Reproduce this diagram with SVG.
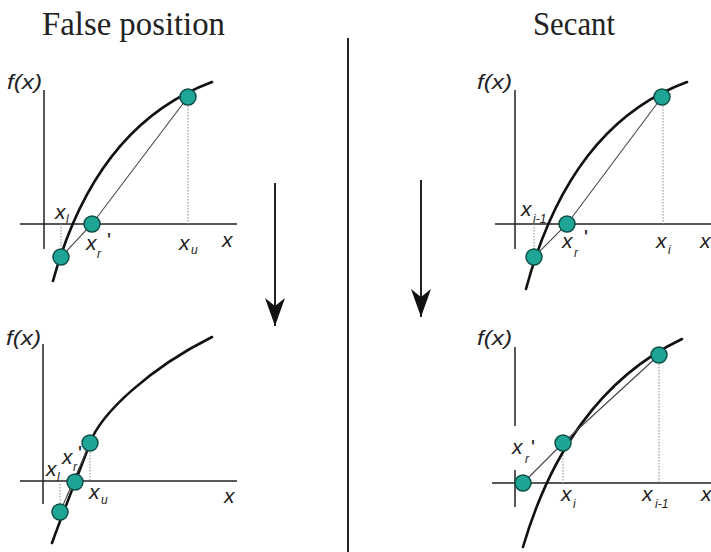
<svg xmlns="http://www.w3.org/2000/svg" width="711" height="552" viewBox="0 0 711 552">
<style>
.title{font-family:"Liberation Serif","Times New Roman",serif;font-size:33px;fill:#222}
.lbl{font-family:"Liberation Sans",Arial,sans-serif;font-style:italic;font-size:21px;fill:#222}
.fx{font-family:"Liberation Sans",Arial,sans-serif;font-style:italic;font-size:21px;fill:#222}
.sub{font-family:"Liberation Sans",Arial,sans-serif;font-style:italic;font-size:12px;fill:#222}
.pr{font-family:"Liberation Sans",Arial,sans-serif;font-size:21px;fill:#222}
.axis{stroke:#222;stroke-width:1.5;fill:none}
.curve{stroke:#111;stroke-width:2.6;fill:none;stroke-linecap:round}
.chord{stroke:#444;stroke-width:1.1;fill:none}
.dot{stroke:#888;stroke-width:1;stroke-dasharray:1.5 1.5;fill:none}
.pt{fill:#1ea595;stroke:#0f4f47;stroke-width:1.5}
.arrow{stroke:#222;stroke-width:2;fill:none}
</style>
<defs>
<marker id="head" markerUnits="userSpaceOnUse" viewBox="0 0 28 20" refX="28" refY="10" markerWidth="28" markerHeight="20" orient="auto">
<path d="M0,0 L28,10 L0,20 L8,10 Z" fill="#111"/>
</marker>
</defs>
<rect width="711" height="552" fill="#fff"/>
<text class="title" x="42" y="35" textLength="183" lengthAdjust="spacingAndGlyphs">False position</text>
<text class="title" x="533" y="35" textLength="82" lengthAdjust="spacingAndGlyphs">Secant</text>
<g id="connectors">
<line x1="348" y1="38" x2="348" y2="552" stroke="#222" stroke-width="2"/>
<line class="arrow" x1="275" y1="183" x2="275" y2="326" marker-end="url(#head)"/>
<line class="arrow" x1="421" y1="180" x2="421" y2="317" marker-end="url(#head)"/>
</g>
<g id="fp-top">
<line class="axis" x1="44" y1="90" x2="44" y2="249"/>
<line class="axis" x1="20" y1="224" x2="237" y2="224"/>
<line class="dot" x1="188" y1="97" x2="188" y2="224"/>
<line class="dot" x1="61" y1="224" x2="61" y2="257"/>
<path class="curve" d="M53,281 C78,190 126,114 212,82"/>
<polyline class="chord" points="188,97 92,224 61,257"/>
<circle class="pt" cx="61" cy="257" r="8"/>
<circle class="pt" cx="92" cy="224" r="8"/>
<circle class="pt" cx="188" cy="97" r="8"/>
<text class="fx" x="7" y="89" textLength="35" lengthAdjust="spacingAndGlyphs">f(x)</text>
<text class="lbl" x="55" y="219">x</text><text class="sub" x="66" y="223">l</text>
<text class="lbl" x="86" y="250">x</text><text class="sub" x="97" y="258">r</text><text class="pr" x="107" y="247">'</text>
<text class="lbl" x="179" y="250">x</text><text class="sub" x="191" y="254">u</text>
<text class="lbl" x="222" y="247">x</text>
</g>
<g id="sec-top">
<line class="axis" x1="515" y1="90" x2="515" y2="249"/>
<line class="axis" x1="495" y1="224" x2="711" y2="224"/>
<line class="dot" x1="663" y1="97" x2="663" y2="224"/>
<line class="dot" x1="534" y1="224" x2="534" y2="257"/>
<path class="curve" d="M526,289 C552,192 600,114 687,82"/>
<polyline class="chord" points="662,97 567,224 534,257"/>
<circle class="pt" cx="534" cy="257" r="8"/>
<circle class="pt" cx="567" cy="224" r="8"/>
<circle class="pt" cx="662" cy="97" r="8"/>
<text class="fx" x="477" y="89" textLength="35" lengthAdjust="spacingAndGlyphs">f(x)</text>
<text class="lbl" x="521" y="216">x</text><text class="sub" x="533" y="223">i-1</text>
<text class="lbl" x="562" y="248">x</text><text class="sub" x="574" y="257">r</text><text class="pr" x="584" y="244">'</text>
<text class="lbl" x="656" y="248">x</text><text class="sub" x="668" y="254">i</text>
<text class="lbl" x="700" y="248">x</text>
</g>
<g id="fp-bottom">
<line class="axis" x1="43" y1="344" x2="43" y2="504"/>
<line class="axis" x1="20" y1="481" x2="237" y2="481"/>
<line class="dot" x1="90" y1="443" x2="90" y2="481"/>
<line class="dot" x1="60" y1="481" x2="60" y2="512"/>
<path class="curve" d="M52,543 C62,515 80,470 90,443 C101,413 150,368 212,337"/>
<line class="chord" x1="90" y1="443" x2="60" y2="512"/>
<circle class="pt" cx="60" cy="512" r="8"/>
<circle class="pt" cx="75" cy="482" r="8"/>
<circle class="pt" cx="90" cy="443" r="8"/>
<text class="fx" x="6" y="345" textLength="35" lengthAdjust="spacingAndGlyphs">f(x)</text>
<text class="lbl" x="46" y="476">x</text><text class="sub" x="57" y="481">l</text>
<text class="lbl" x="62" y="464">x</text><text class="sub" x="73" y="471">r</text><text class="pr" x="78" y="460">'</text>
<text class="lbl" x="89" y="499">x</text><text class="sub" x="101" y="504">u</text>
<text class="lbl" x="224" y="503">x</text>
</g>
<g id="sec-bottom">
<line class="axis" x1="515" y1="347" x2="515" y2="426"/>
<line class="axis" x1="515" y1="470" x2="515" y2="507"/>
<line class="axis" x1="492" y1="483" x2="711" y2="483"/>
<line class="dot" x1="563" y1="443" x2="563" y2="483"/>
<line class="dot" x1="659" y1="355" x2="659" y2="483"/>
<path class="curve" d="M523,547 C550,455 600,378 682,339"/>
<polyline class="chord" points="659,355 563,443 523,483"/>
<circle class="pt" cx="523" cy="483" r="8"/>
<circle class="pt" cx="563" cy="443" r="8"/>
<circle class="pt" cx="659" cy="355" r="8"/>
<text class="fx" x="477" y="345" textLength="35" lengthAdjust="spacingAndGlyphs">f(x)</text>
<text class="lbl" x="512" y="454">x</text><text class="sub" x="525" y="463">r</text><text class="pr" x="531" y="454">'</text>
<text class="lbl" x="561" y="501">x</text><text class="sub" x="573" y="508">i</text>
<text class="lbl" x="642" y="501">x</text><text class="sub" x="655" y="508">i-1</text>
<text class="lbl" x="701" y="501">x</text>
</g>
</svg>
